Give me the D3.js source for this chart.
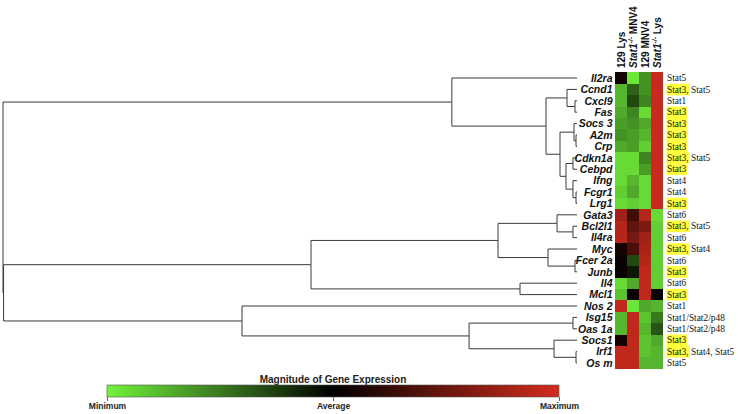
<!DOCTYPE html>
<html><head><meta charset="utf-8">
<script src="https://cdn.jsdelivr.net/npm/d3@7"></script>
<style>body{margin:0;background:#fff}svg{display:block}</style>
</head><body>
<svg id="chart" width="738" height="414"></svg>
<script>
const genes = ["Il2ra","Ccnd1","Cxcl9","Fas","Socs 3","A2m","Crp","Cdkn1a","Cebpd","Ifng","Fcgr1","Lrg1",
  "Gata3","Bcl2l1","Il4ra","Myc","Fcer 2a","Junb","Il4","Mcl1","Nos 2","Isg15","Oas 1a","Socs1","Irf1","Os m"];
const conditions = ["129 Lys","Stat1-/- MNV4","129 MNV4","Stat1-/- Lys"];
// relative expression: -1 = minimum, 0 = average, 1 = maximum
const expression = [
  [ 0.08,-0.95,-0.60, 0.95],
  [-0.75,-0.40,-0.60, 0.95],
  [-0.75,-0.30,-0.55, 0.95],
  [-0.70,-0.55,-0.90, 0.95],
  [-0.65,-0.60,-0.70, 0.95],
  [-0.60,-0.65,-0.75, 0.95],
  [-0.70,-0.65,-0.85, 0.95],
  [-0.90,-0.90,-0.55, 0.95],
  [-0.90,-0.90,-0.65, 0.95],
  [-0.90,-0.75,-0.90, 0.95],
  [-0.85,-0.70,-0.90, 0.95],
  [-0.90,-0.85,-0.90, 0.95],
  [ 0.75, 0.30, 0.85,-0.90],
  [ 0.85, 0.45, 0.60,-0.85],
  [ 0.85, 0.55, 0.75,-0.85],
  [ 0.10, 0.35, 0.80,-0.85],
  [ 0.05,-0.30, 0.85,-0.85],
  [ 0.05,-0.10, 0.90,-0.85],
  [-0.90,-0.70, 0.90,-0.85],
  [-0.80, 0.05, 0.90, 0.05],
  [ 0.90,-0.95,-0.70,-0.75],
  [-0.75, 0.90,-0.80,-0.50],
  [-0.75, 0.90,-0.75,-0.35],
  [ 0.10, 0.90,-0.80,-0.70],
  [ 0.90, 0.90,-0.80,-0.75],
  [ 0.90, 0.90,-0.75,-0.75]
];
const transcriptionFactors = [
  ["Stat5"],["Stat3","Stat5"],["Stat1"],["Stat3"],["Stat3"],["Stat3"],["Stat3"],["Stat3","Stat5"],
  ["Stat3"],["Stat4"],["Stat4"],["Stat3"],["Stat6"],["Stat3","Stat5"],["Stat6"],["Stat3","Stat4"],
  ["Stat6"],["Stat3"],["Stat6"],["Stat3"],["Stat1"],["Stat1/Stat2/p48"],["Stat1/Stat2/p48"],
  ["Stat3"],["Stat3","Stat4","Stat5"],["Stat5"]
];
const highlightFactor = "Stat3";
// hierarchical clustering merges: negative = leaf (1-based gene index), positive = earlier merge (1-based); third = height
const merges = [
  [-3,-4,0.35],[-2,1,1.74],[-6,-7,0.17],[-5,3,0.52],[-8,-9,0.70],[-11,-12,0.17],[-10,6,0.70],
  [5,7,1.92],[4,8,2.96],[2,9,5.40],[-1,10,21.8],
  [-14,-15,0.70],[-13,12,3.48],[-17,-18,0.35],[-16,14,5.05],[13,15,13.76],[-19,-20,9.93],[16,17,46.34],
  [-22,-23,0.70],[-25,-26,0.17],[-24,20,4.0],[19,21,18.8],[-21,22,58.36],
  [18,23,99.9],[11,24,100]
];
const legendTitle = "Magnitude of Gene Expression";
const legendValues = [-1, 0, 1];
const legendLabels = ["Minimum","Average","Maximum"];

const svg = d3.select("#chart");
const color = d3.scaleLinear().domain([-1,0,1]).range(["#72f23c","#000000","#d42c1e"]);

const y = d3.scaleBand().domain(genes).range([72.3, 368.7]);
const xCol = d3.scaleBand().domain(conditions).range([615, 663]);
const xDist = d3.scaleLinear().domain([0, 100]).range([577, 3]);

// dendrogram
function build(ref) {
  if (ref < 0) return {name: genes[-ref-1], height: 0};
  const m = merges[ref-1];
  return {height: m[2], children: [build(m[0]), build(m[1])]};
}
const root = d3.hierarchy(build(merges.length));
root.eachAfter(n => {
  n.px = xDist(n.data.height);
  n.py = n.children ? d3.mean(n.children, c => c.py) : y(n.data.name) + y.bandwidth()/2;
});
svg.append("g").attr("fill","none").attr("stroke","#3a3a3a").attr("stroke-width",1)
  .selectAll("path").data(root.descendants().filter(d => d.parent))
  .join("path")
  .attr("d", d => `M${d.px},${d.py}H${d.parent.px}V${d.parent.py}`);

// gene labels
svg.append("g").selectAll("text").data(genes).join("text")
  .attr("x", 612.5).attr("y", d => y(d) + y.bandwidth()/2).attr("dy","0.36em")
  .attr("text-anchor","end")
  .attr("font-family","Liberation Sans, Arial, sans-serif").attr("font-weight","bold").attr("font-style","italic")
  .attr("font-size",10.5).attr("fill","#111").text(d => d);

// heatmap
const cells = [];
genes.forEach((g,i) => conditions.forEach((c,j) => cells.push({g, c, v: expression[i][j]})));
svg.append("g").attr("shape-rendering","crispEdges").selectAll("rect").data(cells).join("rect")
  .attr("x", d => xCol(d.c)).attr("y", d => y(d.g))
  .attr("width", xCol.bandwidth()+0.3).attr("height", y.bandwidth()+0.3)
  .attr("fill", d => color(d.v));

// column headers
const hdr = svg.append("g");
conditions.forEach(c => {
  const cx = xCol(c) + xCol.bandwidth()/2 + 3.5;
  const t = hdr.append("text").attr("transform", `translate(${cx},68) rotate(-90)`)
    .attr("font-family","Liberation Sans, Arial, sans-serif").attr("font-weight","bold")
    .attr("font-size",10).attr("fill","#111");
  const m = c.match(/^(Stat1)(-\/-)(.*)$/);
  if (m) {
    t.append("tspan").attr("font-style","italic").text(m[1]);
    t.append("tspan").attr("font-style","italic").attr("font-size",7).attr("dy",-3.5).text(m[2]);
    t.append("tspan").attr("dy",3.5).text(m[3]);
  } else t.text(c);
});

// transcription factor labels with highlight
const statX = 667;
const hlG = svg.append("g");
const tfG = svg.append("g");
genes.forEach((g,i) => {
  const tfs = transcriptionFactors[i];
  const cy = y(g);
  const t = tfG.append("text").attr("x", statX).attr("y", cy + y.bandwidth()/2).attr("dy","0.35em")
    .attr("font-family","Liberation Serif, Times New Roman, serif").attr("font-size",9.4).attr("fill","#111")
    .text(tfs.join(", "));
  const node = t.node();
  let idx = 0;
  tfs.forEach((tf,k) => {
    if (tf === highlightFactor) {
      const len = tf.length + (k < tfs.length-1 ? 1 : 0);
      const start = idx === 0 ? 0 : node.getSubStringLength(0, idx);
      const w = node.getSubStringLength(idx, len);
      hlG.append("rect").attr("x", statX + start - 0.5).attr("y", cy)
        .attr("width", w + 1.5).attr("height", y.bandwidth()+0.2).attr("fill","#ffff3c");
    }
    idx += tf.length + 2;
  });
});

// legend
const lx = d3.scaleLinear().domain([-1,1]).range([107,559]);
const grad = svg.append("defs").append("linearGradient").attr("id","lg");
d3.range(0,1.0001,0.05).forEach(o => grad.append("stop").attr("offset", o).attr("stop-color", color(-1 + 2*o)));
svg.append("text").attr("x", lx(0)).attr("y", 382.5).attr("text-anchor","middle")
  .attr("font-family","Liberation Sans, Arial, sans-serif").attr("font-weight","bold").attr("font-size",10)
  .attr("fill","#222").text(legendTitle);
svg.append("rect").attr("x", lx(-1)).attr("y", 385).attr("width", lx(1)-lx(-1)).attr("height", 12)
  .attr("fill","url(#lg)").attr("stroke","#555").attr("stroke-width",0.6);
const ax = svg.append("g").attr("transform","translate(0,397)")
  .call(d3.axisBottom(lx).tickValues(legendValues).tickFormat((d,i) => legendLabels[i]).tickSize(4).tickPadding(2));
ax.select(".domain").remove();
ax.selectAll("line").attr("stroke","#666");
ax.selectAll("text").attr("font-family","Liberation Sans, Arial, sans-serif").attr("font-weight","bold")
  .attr("font-size",8.5).attr("fill","#222");
</script>
</body></html>
